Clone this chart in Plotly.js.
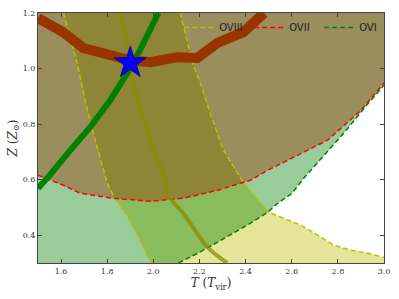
<!DOCTYPE html>
<html><head><meta charset="utf-8">
<script src="https://cdn.plot.ly/plotly-3.0.1.min.js"></script>
<style>html,body{margin:0;padding:0;background:#fff}#c{width:399px;height:299px}</style>
</head><body><div id="c"></div>
<script>
// axis limits
const T_RANGE = [1.5, 3.0];
const Z_RANGE = [0.3, 1.2];

// OVIII band: left boundary (top -> bottom)
const oviiiLeftT = [1.61, 1.635, 1.674, 1.704, 1.74, 1.761, 1.80, 1.835, 1.89, 1.936, 1.99];
const oviiiLeftZ = [1.2, 1.128, 1.005, 0.886, 0.767, 0.706, 0.587, 0.53, 0.465, 0.393, 0.3];
// OVIII right boundary (top -> cusp)
const oviiiRightT = [2.117, 2.17, 2.204, 2.25, 2.304, 2.39, 2.45, 2.5];
const oviiiRightZ = [1.2, 1.02, 0.948, 0.83, 0.706, 0.59, 0.53, 0.483];
// OVIII lower-right boundary (cusp -> right edge)
const oviiiLowT = [2.5, 2.565, 2.639, 2.713, 2.783, 2.857, 2.93, 3.0];
const oviiiLowZ = [0.483, 0.461, 0.436, 0.40, 0.364, 0.346, 0.335, 0.32];

// OVII lower boundary
const oviiT = [1.5, 1.61, 1.683, 1.826, 1.99, 2.13, 2.278, 2.422, 2.487, 2.609, 2.755, 2.9, 3.0];
const oviiZ = [0.616, 0.58, 0.551, 0.533, 0.522, 0.533, 0.562, 0.598, 0.63, 0.681, 0.742, 0.85, 0.948];

// OVI boundary
const oviT = [2.109, 2.204, 2.278, 2.42, 2.496, 2.539, 2.60, 2.652, 2.76, 2.826, 2.943, 3.0];
const oviZ = [0.3, 0.34, 0.375, 0.443, 0.483, 0.515, 0.55, 0.605, 0.706, 0.768, 0.886, 0.94];

// thick constraint curves
const greenCurveT = [1.5, 1.55, 1.64, 1.726, 1.813, 1.89, 1.943, 2.022];
const greenCurveZ = [0.569, 0.615, 0.706, 0.789, 0.886, 0.987, 1.067, 1.2];
const oliveCurveT = [1.848, 1.878, 1.913, 1.957, 2.0, 2.045, 2.074, 2.13, 2.235, 2.32];
const oliveCurveZ = [1.2, 1.128, 0.948, 0.825, 0.706, 0.62, 0.535, 0.479, 0.357, 0.3];
const brownCurveT = [1.5, 1.609, 1.696, 1.8, 1.9, 1.987, 2.104, 2.19, 2.278, 2.39, 2.48];
const brownCurveZ = [1.182, 1.131, 1.074, 1.049, 1.03, 1.023, 1.041, 1.038, 1.092, 1.131, 1.2];

// best-fit point
const starT = [1.9];
const starZ = [1.02];

// build fill polygons
const bandT = oviiiLeftT.concat([T_RANGE[1]], oviiiLowT.slice().reverse(), oviiiRightT.slice().reverse());
const bandZ = oviiiLeftZ.concat([Z_RANGE[0]], oviiiLowZ.slice().reverse(), oviiiRightZ.slice().reverse());
const oviPolyT = oviT.concat([T_RANGE[1], T_RANGE[0], T_RANGE[0]]);
const oviPolyZ = oviZ.concat([Z_RANGE[1], Z_RANGE[1], Z_RANGE[0]]);
const oviiPolyT = oviiT.concat([T_RANGE[1], T_RANGE[0]]);
const oviiPolyZ = oviiZ.concat([Z_RANGE[1], Z_RANGE[1]]);

const nofill = {hoverinfo:'skip', showlegend:false};
const data = [
  Object.assign({x:bandT, y:bandZ, mode:'none', fill:'toself', fillcolor:'rgba(191,191,0,0.4)'}, nofill),
  Object.assign({x:oviPolyT, y:oviPolyZ, mode:'none', fill:'toself', fillcolor:'rgba(0,128,0,0.4)'}, nofill),
  Object.assign({x:oviiPolyT, y:oviiPolyZ, mode:'none', fill:'toself', fillcolor:'rgba(153,51,0,0.4)'}, nofill),
  {x:oviiiLeftT, y:oviiiLeftZ, mode:'lines', name:'OVIII', line:{color:'rgb(191,191,0)', width:1.5, dash:'5px,3px'}},
  Object.assign({x:oviiiRightT.concat(oviiiLowT.slice(1)), y:oviiiRightZ.concat(oviiiLowZ.slice(1)), mode:'lines', line:{color:'rgb(191,191,0)', width:1.5, dash:'5px,3px'}}, nofill),
  {x:oviiT, y:oviiZ, mode:'lines', name:'OVII', line:{color:'rgb(255,0,0)', width:1.5, dash:'5px,3px'}},
  {x:oviT, y:oviZ, mode:'lines', name:'OVI', line:{color:'rgb(0,128,0)', width:1.5, dash:'5px,3px'}},
  Object.assign({x:oliveCurveT, y:oliveCurveZ, mode:'lines', line:{color:'rgba(140,140,0,0.75)', width:4, shape:'spline'}}, nofill),
  Object.assign({x:greenCurveT, y:greenCurveZ, mode:'lines', line:{color:'rgb(0,128,0)', width:6}}, nofill),
  Object.assign({x:brownCurveT, y:brownCurveZ, mode:'lines', line:{color:'rgb(153,51,0)', width:10}}, nofill),
  Object.assign({x:starT, y:starZ, mode:'markers', marker:{symbol:'star', size:24, color:'rgb(0,0,255)', line:{color:'rgb(0,0,120)', width:0.8}}}, nofill)
];

const axisCommon = {
  showgrid:false, zeroline:false, showline:true, mirror:'ticks', linecolor:'#444', linewidth:1,
  ticks:'inside', ticklen:4, tickcolor:'#444', tickformat:'.1f',
  tickfont:{family:'DejaVu Serif, serif', size:8, color:'#333'}
};
const layout = {
  width:399, height:299,
  margin:{l:38, r:15, t:13, b:36, autoexpand:false},
  paper_bgcolor:'#fff', plot_bgcolor:'#fff',
  xaxis: Object.assign({}, axisCommon, {range:T_RANGE, dtick:0.2, tick0:1.6,
    title:{text:'<i>T</i> (<i>T</i><sub>vir</sub>)', font:{family:'DejaVu Serif, serif', size:12, color:'#333'}, standoff:4}}),
  yaxis: Object.assign({}, axisCommon, {range:Z_RANGE, dtick:0.2, tick0:0.4,
    title:{text:'<i>Z</i> (<i>Z</i><sub>⊙</sub>)', font:{family:'DejaVu Serif, serif', size:12, color:'#333'}, standoff:2}}),
  showlegend:true,
  legend:{orientation:'h', x:0.408, y:1.0, xanchor:'left', yanchor:'top', bgcolor:'rgba(0,0,0,0)',
    font:{family:'DejaVu Sans, sans-serif', size:10, color:'#222'}, entrywidth:25, entrywidthmode:'pixels',
    itemwidth:30, traceorder:'normal'}
};
Plotly.newPlot('c', data, layout, {staticPlot:true, displayModeBar:false});
</script></body></html>
